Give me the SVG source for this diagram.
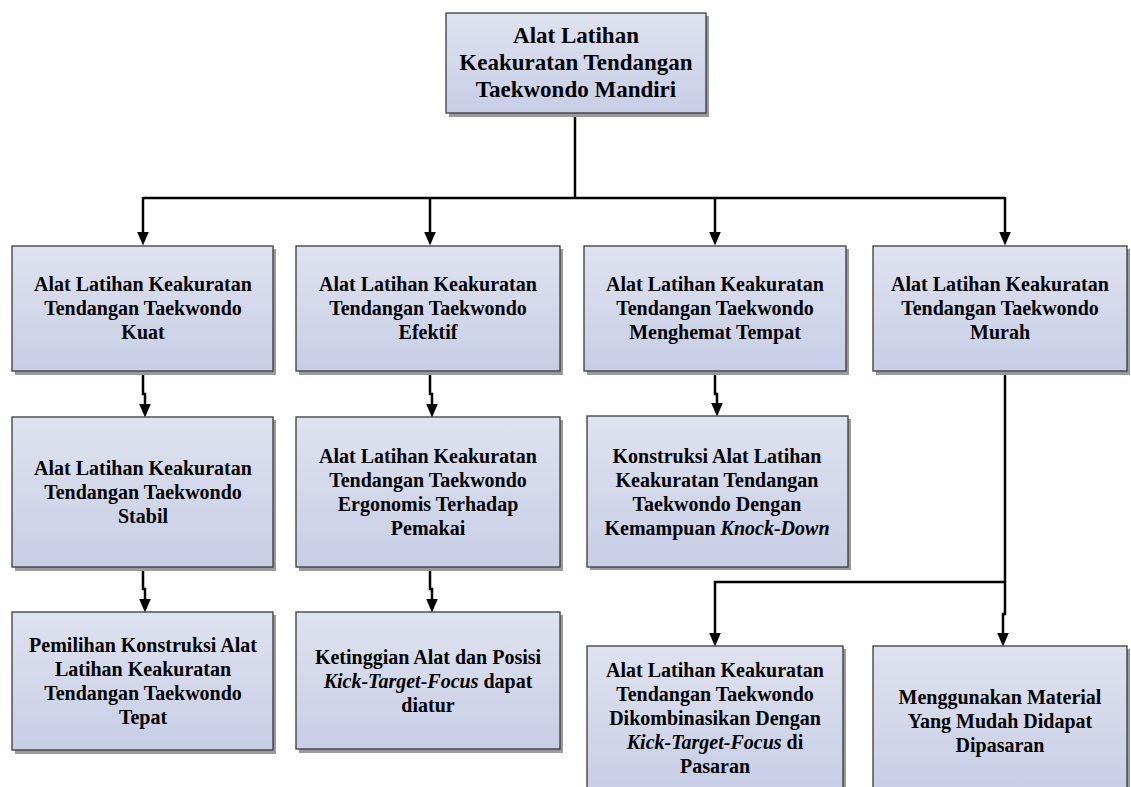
<svg xmlns="http://www.w3.org/2000/svg" width="1131" height="787" viewBox="0 0 1131 787">
<defs>
<linearGradient id="g" x1="0" y1="0" x2="0" y2="1">
<stop offset="0" stop-color="#dfe2ef"/>
<stop offset="1" stop-color="#c7cee6"/>
</linearGradient>
<marker id="ah" markerWidth="14" markerHeight="12" refX="0.5" refY="6" orient="auto" markerUnits="userSpaceOnUse" viewBox="0 0 14 12">
<path d="M0,0 L14,6 L0,12 Z" fill="#000"/>
</marker>
<style>
.sh{fill:#9a9a9a;}
.bx{fill:url(#g);stroke:#3a3a3a;stroke-width:1.3;}
.t{font-weight:bold;font-size:20px;fill:#000;text-anchor:middle;}
.tt{font-size:23px;}
.i{font-style:italic;}
.c{fill:none;stroke:#000;stroke-width:2.5;}
.ca{fill:none;stroke:#000;stroke-width:2.5;marker-end:url(#ah);}
</style>
</defs>
<rect width="1131" height="787" fill="#fff"/>

<g id="connectors">
<path class="c" d="M575,113 V198"/>
<path class="c" d="M143,198 H1005"/>
<path class="ca" d="M143,197 V232"/>
<path class="ca" d="M430,197 V232"/>
<path class="ca" d="M715,197 V232"/>
<path class="ca" d="M1005,197 V232"/>
<path class="ca" d="M143,371 V394 H145 V404"/>
<path class="ca" d="M430,371 V394 H432 V404"/>
<path class="ca" d="M715,371 V394 H717 V403"/>
<path class="ca" d="M143,567 V589 H145 V599"/>
<path class="ca" d="M430,567 V589 H432 V599"/>
<path class="c" d="M1005,371 V582"/>
<path class="ca" d="M1006,582 H715 V633"/>
<path class="ca" d="M1005,582 V614 H1003 V633"/>
</g>

<g font-family="'Liberation Serif', 'Times New Roman', 'DejaVu Serif', serif">
<g id="root">
<rect class="sh" x="449" y="16" width="260" height="101"/>
<rect class="bx" x="446" y="13" width="260" height="100"/>
<text class="t tt" x="576" y="43">Alat Latihan</text>
<text class="t tt" x="576" y="70">Keakuratan Tendangan</text>
<text class="t tt" x="576" y="97">Taekwondo Mandiri</text>
</g>

<g id="kuat">
<rect class="sh" x="15" y="249" width="261" height="126"/>
<rect class="bx" x="12" y="246" width="261" height="125"/>
<text class="t" x="143" y="291">Alat Latihan Keakuratan</text>
<text class="t" x="143" y="315">Tendangan Taekwondo</text>
<text class="t" x="143" y="339">Kuat</text>
</g>

<g id="efektif">
<rect class="sh" x="299" y="249" width="264" height="126"/>
<rect class="bx" x="296" y="246" width="264" height="125"/>
<text class="t" x="428" y="291">Alat Latihan Keakuratan</text>
<text class="t" x="428" y="315">Tendangan Taekwondo</text>
<text class="t" x="428" y="339">Efektif</text>
</g>

<g id="tempat">
<rect class="sh" x="587" y="249" width="262" height="126"/>
<rect class="bx" x="584" y="246" width="262" height="125"/>
<text class="t" x="715" y="291">Alat Latihan Keakuratan</text>
<text class="t" x="715" y="315">Tendangan Taekwondo</text>
<text class="t" x="715" y="339">Menghemat Tempat</text>
</g>

<g id="murah">
<rect class="sh" x="876" y="249" width="254" height="126"/>
<rect class="bx" x="873" y="246" width="254" height="125"/>
<text class="t" x="1000" y="291">Alat Latihan Keakuratan</text>
<text class="t" x="1000" y="315">Tendangan Taekwondo</text>
<text class="t" x="1000" y="339">Murah</text>
</g>

<g id="stabil">
<rect class="sh" x="15" y="420" width="261" height="151"/>
<rect class="bx" x="12" y="417" width="261" height="150"/>
<text class="t" x="143" y="475">Alat Latihan Keakuratan</text>
<text class="t" x="143" y="499">Tendangan Taekwondo</text>
<text class="t" x="143" y="523">Stabil</text>
</g>

<g id="ergonomis">
<rect class="sh" x="299" y="420" width="264" height="151"/>
<rect class="bx" x="296" y="417" width="264" height="150"/>
<text class="t" x="428" y="463">Alat Latihan Keakuratan</text>
<text class="t" x="428" y="487">Tendangan Taekwondo</text>
<text class="t" x="428" y="511">Ergonomis Terhadap</text>
<text class="t" x="428" y="535">Pemakai</text>
</g>

<g id="knockdown">
<rect class="sh" x="590" y="419" width="261" height="151"/>
<rect class="bx" x="587" y="416" width="261" height="151"/>
<text class="t" x="717" y="463">Konstruksi Alat Latihan</text>
<text class="t" x="717" y="487">Keakuratan Tendangan</text>
<text class="t" x="717" y="511">Taekwondo Dengan</text>
<text class="t" x="717" y="535">Kemampuan <tspan class="i">Knock-Down</tspan></text>
</g>

<g id="tepat">
<rect class="sh" x="15" y="615" width="261" height="139"/>
<rect class="bx" x="12" y="612" width="261" height="138"/>
<text class="t" x="143" y="652">Pemilihan Konstruksi Alat</text>
<text class="t" x="143" y="676">Latihan Keakuratan</text>
<text class="t" x="143" y="700">Tendangan Taekwondo</text>
<text class="t" x="143" y="724">Tepat</text>
</g>

<g id="ketinggian">
<rect class="sh" x="299" y="615" width="264" height="138"/>
<rect class="bx" x="296" y="612" width="264" height="137"/>
<text class="t" x="428" y="664">Ketinggian Alat dan Posisi</text>
<text class="t" x="428" y="688"><tspan class="i">Kick-Target-Focus</tspan> dapat</text>
<text class="t" x="428" y="712">diatur</text>
</g>

<g id="kombinasi">
<rect class="sh" x="590" y="649" width="256" height="145"/>
<rect class="bx" x="587" y="646" width="256" height="145"/>
<text class="t" x="715" y="677">Alat Latihan Keakuratan</text>
<text class="t" x="715" y="701">Tendangan Taekwondo</text>
<text class="t" x="715" y="725">Dikombinasikan Dengan</text>
<text class="t" x="715" y="749"><tspan class="i">Kick-Target-Focus</tspan> di</text>
<text class="t" x="715" y="773">Pasaran</text>
</g>

<g id="material">
<rect class="sh" x="876" y="649" width="254" height="145"/>
<rect class="bx" x="873" y="646" width="254" height="145"/>
<text class="t" x="1000" y="704">Menggunakan Material</text>
<text class="t" x="1000" y="728">Yang Mudah Didapat</text>
<text class="t" x="1000" y="752">Dipasaran</text>
</g>
</g>
</svg>
